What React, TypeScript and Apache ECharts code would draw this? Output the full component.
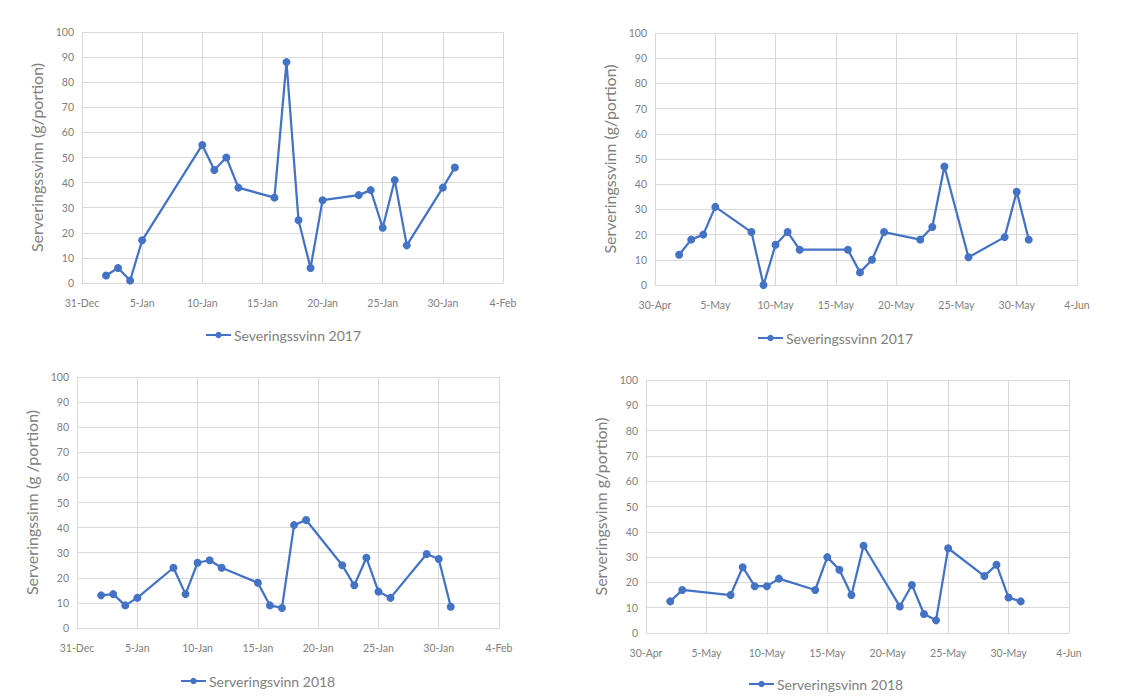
import React, { useEffect, useRef } from "react";
import * as echarts from "echarts";

// x = day of month; 0 = last day of the previous month
const ticksJan = ["31-Dec", "5-Jan", "10-Jan", "15-Jan", "20-Jan", "25-Jan", "30-Jan", "4-Feb"];
const ticksMay = ["30-Apr", "5-May", "10-May", "15-May", "20-May", "25-May", "30-May", "4-Jun"];

const jan2017Days = [2, 3, 4, 5, 10, 11, 12, 13, 16, 17, 18, 19, 20, 23, 24, 25, 26, 27, 30, 31];
const jan2017Vals = [3, 6, 1, 17, 55, 45, 50, 38, 34, 88, 25, 6, 33, 35, 37, 22, 41, 15, 38, 46];

const may2017Days = [2, 3, 4, 5, 8, 9, 10, 11, 12, 16, 17, 18, 19, 22, 23, 24, 26, 29, 30, 31];
const may2017Vals = [12, 18, 20, 31, 21, 0, 16, 21, 14, 14, 5, 10, 21, 18, 23, 47, 11, 19, 37, 18];

const jan2018Days = [2, 3, 4, 5, 8, 9, 10, 11, 12, 15, 16, 17, 18, 19, 22, 23, 24, 25, 26, 29, 30, 31];
const jan2018Vals = [13, 13.5, 9, 12, 24, 13.5, 26, 27, 24, 18, 9, 8, 41, 43, 25, 17, 28, 14.5, 12, 29.5, 27.5, 8.5];

const may2018Days = [2, 3, 7, 8, 9, 10, 11, 14, 15, 16, 17, 18, 21, 22, 23, 24, 25, 28, 29, 30, 31];
const may2018Vals = [12.5, 17, 15, 26, 18.5, 18.5, 21.5, 17, 30, 25, 15, 34.5, 10.5, 19, 7.5, 5, 33.5, 22.5, 27, 14, 12.5];

const panels = [
  { name: "Severingssvinn 2017", yTitle: "Serveringssvinn (g/portion)", days: jan2017Days, vals: jan2017Vals, ticks: ticksJan,
    grid: { left: 82, top: 32, width: 421, height: 251 }, legend: { left: 205, top: 328 } },
  { name: "Severingssvinn 2017 ", yTitle: "Serveringssvinn (g/portion)", days: may2017Days, vals: may2017Vals, ticks: ticksMay,
    grid: { left: 655, top: 33, width: 422, height: 252 }, legend: { left: 757, top: 331 } },
  { name: "Serveringsvinn 2018", yTitle: "Serveringssinn (g /portion)", days: jan2018Days, vals: jan2018Vals, ticks: ticksJan,
    grid: { left: 77, top: 377, width: 422, height: 251 }, legend: { left: 180, top: 674 } },
  { name: "Serveringsvinn 2018 ", yTitle: "Serveringsvinn g/portion)", days: may2018Days, vals: may2018Vals, ticks: ticksMay,
    grid: { left: 646, top: 380, width: 423, height: 253 }, legend: { left: 748, top: 677 } },
];

const FONT = "Lato";
const TXT = "#808080";
const GRID = "#d9d9d9";
const BLUE = "#4472C4";

export default function App() {
  const ref = useRef<HTMLDivElement>(null);
  useEffect(() => {
    document.body.style.margin = "0";
    const chart = echarts.init(ref.current!, null, { renderer: "svg" });
    const option: any = {
      animation: false,
      backgroundColor: "#ffffff",
      textStyle: { fontFamily: FONT },
      grid: panels.map((p) => ({ ...p.grid, containLabel: false })),
      xAxis: panels.map((p, i) => ({
        type: "value",
        gridIndex: i,
        min: 0,
        max: 35,
        interval: 5,
        axisLine: { show: true, lineStyle: { color: GRID, width: 1 } },
        axisTick: { show: false },
        splitLine: { show: true, lineStyle: { color: GRID, width: 1 } },
        axisLabel: {
          color: TXT,
          fontSize: 10.5,
          fontFamily: FONT,
          margin: 14,
          formatter: (v: number) => p.ticks[Math.round(v / 5)] ?? "",
        },
      })),
      yAxis: panels.map((p, i) => ({
        type: "value",
        gridIndex: i,
        min: 0,
        max: 100,
        interval: 10,
        name: p.yTitle,
        nameLocation: "middle",
        nameGap: 38,
        nameTextStyle: { color: TXT, fontSize: 16, fontFamily: FONT },
        axisLine: { show: false },
        axisTick: { show: false },
        splitLine: { show: true, lineStyle: { color: GRID, width: 1 } },
        axisLabel: { color: TXT, fontSize: 10.5, fontFamily: FONT, margin: 8 },
      })),
      legend: panels.map((p) => ({
        data: [p.name],
        left: p.legend.left,
        top: p.legend.top,
        padding: 0,
        itemWidth: 25,
        itemHeight: 8,
        itemGap: 3,
        textStyle: { color: TXT, fontSize: 14, fontFamily: FONT, padding: [0, 0, 0, -2] },
        selectedMode: false,
      })),
      series: panels.map((p, i) => ({
        type: "line",
        name: p.name,
        xAxisIndex: i,
        yAxisIndex: i,
        data: p.days.map((d, j) => [d, p.vals[j]]),
        symbol: "circle",
        symbolSize: 8,
        lineStyle: { color: BLUE, width: 2.25 },
        itemStyle: { color: BLUE },
      })),
    };
    chart.setOption(option);
    return () => chart.dispose();
  }, []);
  return <div ref={ref} style={{ width: 1129, height: 698 }} />;
}
